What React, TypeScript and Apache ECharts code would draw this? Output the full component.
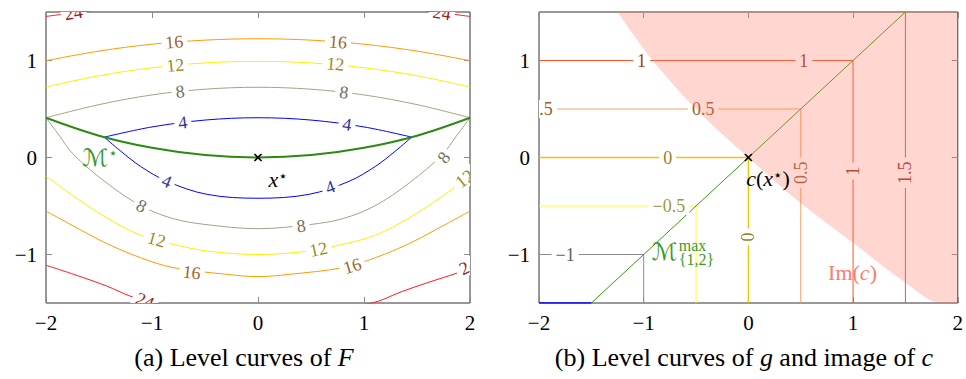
import React, { useEffect, useRef } from 'react';
import * as echarts from 'echarts';

const SERIF = '"Liberation Serif", "DejaVu Serif", serif';
const MATH = '"Liberation Serif", "DejaVu Serif", "DejaVu Sans", serif';

// ---------- axes ----------
const xRange = [-2, 2];
const yRange = [-1.5, 1.5];
const yTickValues = [-1, 0, 1];

// ---------- (a) level curves of F ----------
const mStar: number[][] = [[-2, 0.41], [-1.5, 0.225], [-1, 0.1], [-0.5, 0.025], [0, 0], [0.5, 0.025], [1, 0.1], [1.5, 0.225], [2, 0.41]];
const f4Upper: number[][] = [[-1.45, 0.21], [-1, 0.315], [-0.5, 0.386], [0, 0.41], [0.5, 0.386], [1, 0.315], [1.45, 0.21]];
const f4Lower: number[][] = [[-1.45, 0.21], [-1.3, 0.07], [-1.11, -0.09], [-0.86, -0.245], [-0.48, -0.38], [0, -0.42], [0.48, -0.38], [0.86, -0.245], [1.11, -0.09], [1.3, 0.07], [1.45, 0.21]];
const f8Upper: number[][] = [[-2, 0.41], [-1.5, 0.545], [-1, 0.645], [-0.5, 0.704], [0, 0.724], [0.5, 0.704], [1, 0.645], [1.5, 0.545], [2, 0.41]];
const f8Lower: number[][] = [[-2, 0.41], [-1.87, 0.22], [-1.74, 0.03], [-1.43, -0.26], [-1.1, -0.5], [-0.8, -0.63], [-0.5, -0.69], [0, -0.734], [0.5, -0.69], [0.8, -0.63], [1.1, -0.5], [1.43, -0.26], [1.74, 0.03], [1.87, 0.22], [2, 0.41]];
const f12Upper: number[][] = [[-2, 0.727], [-1.5, 0.843], [-1, 0.925], [-0.5, 0.975], [0, 0.991], [0.5, 0.975], [1, 0.925], [1.5, 0.843], [2, 0.727]];
const f12Lower: number[][] = [[-2, -0.19], [-1.74, -0.398], [-1.43, -0.62], [-1.11, -0.8], [-0.8, -0.895], [-0.48, -0.964], [0, -1.0], [0.48, -0.964], [0.8, -0.895], [1.11, -0.8], [1.43, -0.62], [1.74, -0.398], [2, -0.19]];
const f16Upper: number[][] = [[-2, 0.998], [-1.5, 1.097], [-1, 1.168], [-0.5, 1.21], [0, 1.224], [0.5, 1.21], [1, 1.168], [1.5, 1.097], [2, 0.998]];
const f16Lower: number[][] = [[-2, -0.552], [-1.74, -0.707], [-1.43, -0.885], [-1.11, -1.032], [-0.8, -1.135], [-0.3, -1.204], [0, -1.228], [0.3, -1.204], [0.8, -1.135], [1.11, -1.032], [1.43, -0.885], [1.74, -0.707], [2, -0.552]];
const f24Upper: number[][] = [[-2, 1.454], [-1.75, 1.49], [-1.5, 1.52], [-1, 1.565], [0, 1.6], [1, 1.565], [1.5, 1.52], [1.75, 1.49], [2, 1.454]];
const f24Lower: number[][] = [[-2, -1.111], [-1.74, -1.204], [-1.43, -1.324], [-1.21, -1.427], [-0.98, -1.5], [-0.5, -1.58], [0, -1.6], [0.5, -1.58], [1.075, -1.5], [1.35, -1.385], [1.6, -1.29], [1.88, -1.19], [2, -1.13]];

const fCurves = [
  { level: 4, points: f4Upper }, { level: 4, points: f4Lower },
  { level: 8, points: f8Upper }, { level: 8, points: f8Lower },
  { level: 12, points: f12Upper }, { level: 12, points: f12Lower },
  { level: 16, points: f16Upper }, { level: 16, points: f16Lower },
  { level: 24, points: f24Upper }, { level: 24, points: f24Lower },
];

type Lab = { text: string; level: number; x: number; y: number; angle: number };
const fLabels: Lab[] = [
  { text: '4', level: 4, x: -0.71, y: 0.36, angle: 7 },
  { text: '4', level: 4, x: 0.84, y: 0.34, angle: -8 },
  { text: '4', level: 4, x: -0.86, y: -0.245, angle: -23 },
  { text: '4', level: 4, x: 0.68, y: -0.305, angle: 20 },
  { text: '8', level: 8, x: -0.735, y: 0.68, angle: 6 },
  { text: '8', level: 8, x: 0.81, y: 0.672, angle: -7 },
  { text: '8', level: 8, x: -1.1, y: -0.5, angle: -27 },
  { text: '8', level: 8, x: 0.407, y: -0.705, angle: 8 },
  { text: '8', level: 8, x: 1.752, y: 0.0, angle: 52 },
  { text: '12', level: 12, x: -0.78, y: 0.95, angle: 5 },
  { text: '12', level: 12, x: 0.73, y: 0.964, angle: -5 },
  { text: '12', level: 12, x: -0.956, y: -0.844, angle: -16 },
  { text: '12', level: 12, x: 0.57, y: -0.946, angle: 12 },
  { text: '12', level: 12, x: 1.95, y: -0.22, angle: 38 },
  { text: '16', level: 16, x: -0.79, y: 1.19, angle: 5 },
  { text: '16', level: 16, x: 0.754, y: 1.19, angle: -5 },
  { text: '16', level: 16, x: -0.625, y: -1.186, angle: -6 },
  { text: '16', level: 16, x: 0.89, y: -1.118, angle: 17 },
  { text: '24', level: 24, x: -1.74, y: 1.49, angle: 9 },
  { text: '24', level: 24, x: 1.735, y: 1.49, angle: -9 },
  { text: '24', level: 24, x: -1.066, y: -1.478, angle: -22 },
  { text: '24', level: 24, x: 1.985, y: -1.12, angle: 25 },
];

const fStyles: Record<string, { line: string; text: string }> = {
  '4': { line: '#0000ff', text: '#33339c' },
  '8': { line: '#a3a384', text: '#707062' },
  '12': { line: '#ffee00', text: '#998a1c' },
  '16': { line: '#ff9a00', text: '#9c6630' },
  '24': { line: '#ff1a1a', text: '#9c1a1a' },
};

// ---------- (b) level curves of g, image of c ----------
const gM15: number[][] = [[-2, -1.5], [-1.5, -1.5]];
const gM1: number[][] = [[-2, -1], [-1, -1], [-1, -1.5]];
const gM05: number[][] = [[-2, -0.5], [-0.5, -0.5], [-0.5, -1.5]];
const g0: number[][] = [[-2, 0], [0, 0], [0, -1.5]];
const g05: number[][] = [[-2, 0.5], [0.5, 0.5], [0.5, -1.5]];
const g1: number[][] = [[-2, 1], [1, 1], [1, -1.5]];
const g15: number[][] = [[1.5, 1.5], [1.5, -1.5]];
const gCurves = [
  { level: -1.5, points: gM15 }, { level: -1, points: gM1 }, { level: -0.5, points: gM05 },
  { level: 0.5, points: g05 }, { level: 1, points: g1 }, { level: 1.5, points: g15 }, { level: 0, points: g0 },
];
const mMax: number[][] = [[-1.5, -1.5], [1.5, 1.5]];
const imBoundary: number[][] = [[-1.25, 1.5], [-0.913, 1], [-0.5, 0.5], [0, 0], [0.5, -0.47], [1, -0.88], [1.5, -1.29], [1.85, -1.5], [2, -1.5]];

const gLabels: Lab[] = [
  { text: '1', level: 1, x: -1.02, y: 1, angle: 0 },
  { text: '1', level: 1, x: 0.53, y: 1, angle: 0 },
  { text: '0.5', level: 0.5, x: -1.975, y: 0.5, angle: 0 },
  { text: '0.5', level: 0.5, x: -0.43, y: 0.5, angle: 0 },
  { text: '0', level: 0, x: -0.77, y: 0, angle: 0 },
  { text: '\u22120.5', level: -0.5, x: -0.76, y: -0.5, angle: 0 },
  { text: '\u22121', level: -1, x: -1.75, y: -1, angle: 0 },
  { text: '0', level: 0, x: 0, y: -0.82, angle: 90 },
  { text: '0.5', level: 0.5, x: 0.5, y: -0.157, angle: 90 },
  { text: '1', level: 1, x: 1, y: -0.14, angle: 90 },
  { text: '1.5', level: 1.5, x: 1.5, y: -0.157, angle: 90 },
];

const gStyles: Record<string, { line: string; text: string }> = {
  '-1.5': { line: '#0000ff', text: '#33339c' },
  '-1': { line: '#8c8c8c', text: '#5e5e5e' },
  '-0.5': { line: '#ffff30', text: '#9a9a3c' },
  '0': { line: '#ffbb00', text: '#9c7f1e' },
  '0.5': { line: '#ffa062', text: '#9c5a30' },
  '1': { line: '#ff5428', text: '#9c3a22' },
  '1.5': { line: '#ff4a3c', text: '#9c3030' },
};

const optimum: number[][] = [[0, 0]];

// annotations: anchor in data coordinates
const leftNotes = [
  { key: 'mstar', x: -1.49, y: -0.005 },
  { key: 'xstar', x: 0.19, y: -0.226 },
];
const rightNotes = [
  { key: 'cx', x: 0.187, y: -0.216 },
  { key: 'mmax', x: -0.923, y: -0.972 },
  { key: 'imc', x: 0.995, y: -1.19 },
];

const minus = (v: number) => String(v).replace('-', '\u2212');

function xAxis(gridIndex: number, position: 'top' | 'bottom', showLabel: boolean) {
  return {
    type: 'value', gridIndex, position, min: xRange[0], max: xRange[1], interval: 1,
    axisLine: { show: false, onZero: false }, splitLine: { show: false },
    axisTick: { show: true, inside: true, length: 6, lineStyle: { color: '#8a8a8a', width: 1 } },
    axisLabel: { show: showLabel, formatter: minus, fontSize: 21, fontFamily: SERIF, color: '#000', margin: 9 },
  };
}
function yAxis(gridIndex: number, position: 'left' | 'right', showLabel: boolean) {
  return {
    type: 'value', gridIndex, position, min: yRange[0], max: yRange[1],
    axisLine: { show: false, onZero: false }, splitLine: { show: false },
    axisTick: { show: true, inside: true, length: 6, customValues: yTickValues, lineStyle: { color: '#8a8a8a', width: 1 } },
    axisLabel: { show: showLabel, customValues: yTickValues, formatter: minus, fontSize: 21, fontFamily: SERIF, color: '#000', margin: 9 },
  };
}

function line(points: number[][], color: string, xi: number, yi: number, width = 1, smooth: number | boolean = 0.35, z = 2) {
  return {
    type: 'line', xAxisIndex: xi, yAxisIndex: yi, data: points, showSymbol: false, symbol: 'none',
    smooth, lineStyle: { color, width, opacity: 1 }, itemStyle: { color }, z, silent: true, clip: true,
  };
}

function labelSeries(labels: Lab[], styles: Record<string, { line: string; text: string }>, xi: number, yi: number) {
  return {
    type: 'custom', xAxisIndex: xi, yAxisIndex: yi, clip: true, z: 3, silent: true,
    data: labels.map((l) => [l.x, l.y]),
    renderItem: (params: any, api: any) => {
      const l = labels[params.dataIndex];
      const p = api.coord([api.value(0), api.value(1)]);
      return {
        type: 'text', x: p[0], y: p[1], rotation: (l.angle * Math.PI) / 180,
        style: {
          text: l.text, fill: styles[String(l.level)].text, fontSize: 18, fontFamily: SERIF,
          align: 'center', verticalAlign: 'middle', backgroundColor: '#ffffff', padding: [0, 4],
        },
      };
    },
  };
}

function markerSeries(xi: number, yi: number) {
  return {
    type: 'custom', xAxisIndex: xi, yAxisIndex: yi, z: 6, silent: true,
    data: optimum,
    renderItem: (params: any, api: any) => {
      const p = api.coord([api.value(0), api.value(1)]);
      const s = 3.5;
      const st = { stroke: '#000', lineWidth: 1.7 };
      return {
        type: 'group',
        children: [
          { type: 'line', shape: { x1: p[0] - s, y1: p[1] - s, x2: p[0] + s, y2: p[1] + s }, style: st },
          { type: 'line', shape: { x1: p[0] - s, y1: p[1] + s, x2: p[0] + s, y2: p[1] - s }, style: st },
        ],
      };
    },
  };
}

const richBase = { fontFamily: MATH, fontSize: 22 };
const STAR = { fontFamily: '"DejaVu Sans", sans-serif', fontSize: 15, verticalAlign: 'top' };

function noteElement(key: string, p: number[]) {
  if (key === 'mstar') {
    return {
      type: 'text', x: p[0], y: p[1],
      style: {
        text: '{m|\u2133}{s|\u22c6}', align: 'center', verticalAlign: 'middle',
        rich: { m: { ...richBase, fill: '#2f9a2f', fontSize: 24 }, s: { ...STAR, fill: '#2f9a2f' } },
      },
    };
  }
  if (key === 'xstar') {
    return {
      type: 'text', x: p[0], y: p[1],
      style: {
        text: '{i|x}{s|\u22c6}', align: 'center', verticalAlign: 'middle',
        rich: { i: { ...richBase, fontStyle: 'italic', fill: '#000' }, s: { ...STAR, fill: '#000' } },
      },
    };
  }
  if (key === 'cx') {
    return {
      type: 'text', x: p[0], y: p[1],
      style: {
        text: '{i|c}{n|(}{i|x}{s|\u22c6}{n|)}', align: 'center', verticalAlign: 'middle',
        rich: {
          i: { ...richBase, fontStyle: 'italic', fill: '#000' },
          n: { ...richBase, fill: '#000' },
          s: { ...STAR, fill: '#000' },
        },
      },
    };
  }
  if (key === 'mmax') {
    const green = '#3c9a22';
    return {
      type: 'group', x: p[0], y: p[1],
      children: [
        { type: 'text', x: 0, y: 0, style: { text: '\u2133', fontFamily: MATH, fontSize: 24, fill: green, align: 'left', verticalAlign: 'middle' } },
        { type: 'text', x: 27, y: -6.5, style: { text: 'max', fontFamily: SERIF, fontSize: 16, fill: green, align: 'left', verticalAlign: 'middle' } },
        { type: 'text', x: 27, y: 8, style: { text: '{1,2}', fontFamily: SERIF, fontSize: 16, fill: green, align: 'left', verticalAlign: 'middle' } },
      ],
    };
  }
  // imc
  return {
    type: 'text', x: p[0], y: p[1],
    style: {
      text: '{n|Im(}{i|c}{n|)}', align: 'center', verticalAlign: 'middle',
      rich: { n: { ...richBase, fill: '#ff7b6b' }, i: { ...richBase, fontStyle: 'italic', fill: '#ff7b6b' } },
    },
  };
}

function noteSeries(notes: { key: string; x: number; y: number }[], xi: number, yi: number) {
  return {
    type: 'custom', xAxisIndex: xi, yAxisIndex: yi, z: 7, silent: true,
    data: notes.map((n) => [n.x, n.y]),
    renderItem: (params: any, api: any) => {
      const p = api.coord([api.value(0), api.value(1)]);
      return noteElement(notes[params.dataIndex].key, p);
    },
  };
}

export default function App() {
  const ref = useRef<HTMLDivElement>(null);
  useEffect(() => {
    if (!ref.current) return;
    const chart = echarts.init(ref.current, null, { renderer: 'svg' });
    const series: any[] = [];
    // (a)
    fCurves.forEach((c) => series.push(line(c.points, fStyles[String(c.level)].line, 0, 0, 1, 0.35)));
    series.push(line(mStar, '#2a8a14', 0, 0, 2, 0.35, 2.5));
    series.push(labelSeries(fLabels, fStyles, 0, 0));
    series.push(markerSeries(0, 0));
    series.push(noteSeries(leftNotes, 0, 0));
    // (b)
    gCurves.forEach((c) => series.push(line(c.points, gStyles[String(c.level)].line, 2, 2, c.level === -1.5 ? 1.6 : c.level === 0 ? 1.3 : 1, false)));
    series.push(line(mMax, '#3a9a10', 2, 2, 1, false, 2.5));
    series.push(labelSeries(gLabels, gStyles, 2, 2));
    series.push({
      type: 'line', xAxisIndex: 2, yAxisIndex: 2, data: imBoundary, showSymbol: false, symbol: 'none', smooth: 0.35,
      lineStyle: { width: 0, opacity: 0 }, areaStyle: { origin: 'end', color: '#ff7763', opacity: 0.3 }, z: 4, silent: true,
    });
    series.push(markerSeries(2, 2));
    series.push(noteSeries(rightNotes, 2, 2));

    chart.setOption({
      animation: false,
      grid: [
        { left: 46, top: 12, width: 424, height: 291, show: true, borderColor: '#333', borderWidth: 1, backgroundColor: 'transparent' },
        { left: 539, top: 12, width: 424, height: 291, show: true, borderColor: '#333', borderWidth: 1, backgroundColor: 'transparent' },
      ],
      xAxis: [xAxis(0, 'bottom', true), xAxis(0, 'top', false), xAxis(1, 'bottom', true), xAxis(1, 'top', false)],
      yAxis: [yAxis(0, 'left', true), yAxis(0, 'right', false), yAxis(1, 'left', true), yAxis(1, 'right', false)],
      series,
      graphic: [
        {
          type: 'text', x: 244, y: 357,
          style: {
            text: '(a) Level curves of {i|F}', fontFamily: SERIF, fontSize: 26, fill: '#000', align: 'center', verticalAlign: 'middle',
            rich: { i: { fontFamily: SERIF, fontSize: 26, fontStyle: 'italic', fill: '#000' } },
          },
        },
        {
          type: 'text', x: 744, y: 357,
          style: {
            text: '(b) Level curves of {i|g} and image of {i|c}', fontFamily: SERIF, fontSize: 26, fill: '#000', align: 'center', verticalAlign: 'middle',
            rich: { i: { fontFamily: SERIF, fontSize: 26, fontStyle: 'italic', fill: '#000' } },
          },
        },
      ],
    });
    return () => chart.dispose();
  }, []);
  return <div ref={ref} style={{ position: 'absolute', left: 0, top: 0, width: 966, height: 379 }} />;
}
